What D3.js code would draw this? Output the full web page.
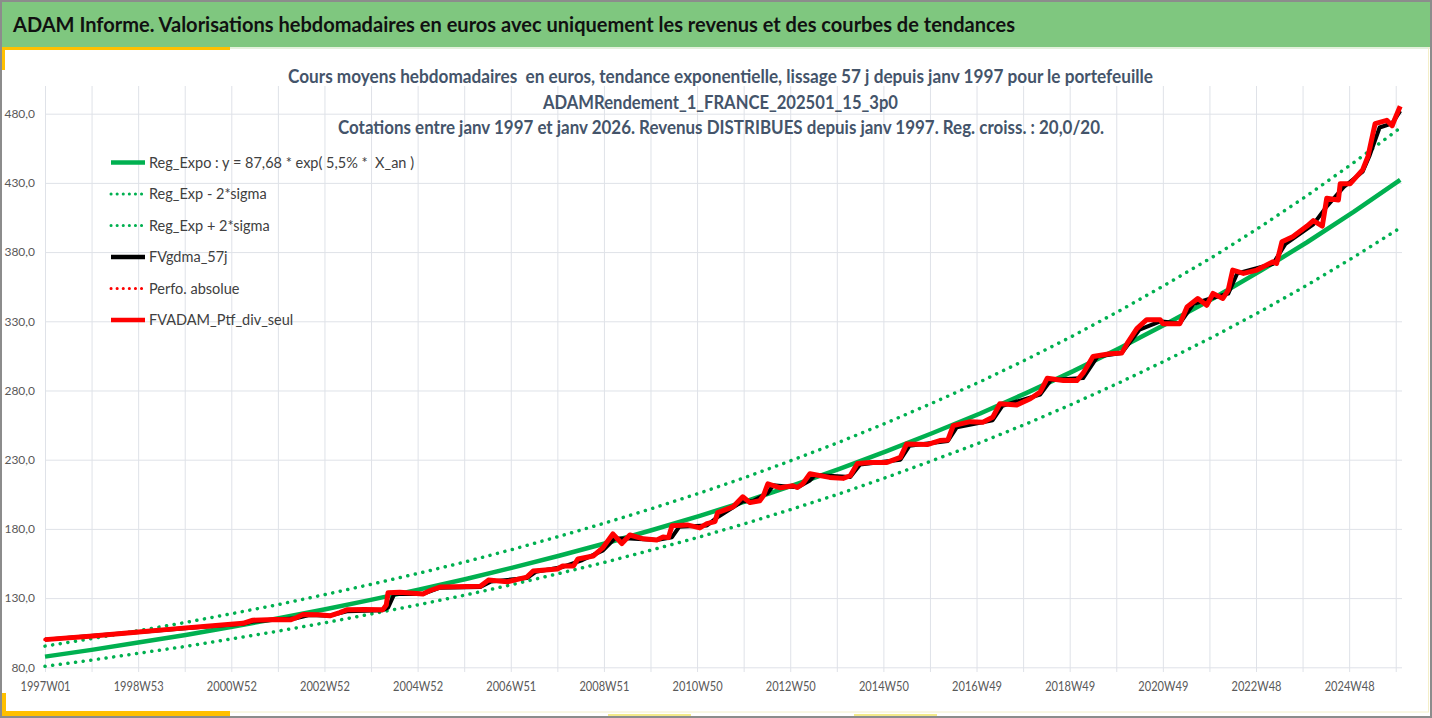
<!DOCTYPE html>
<html lang="fr">

<head>
	<meta charset="UTF-8">
	<script type="text/javascript" src="https://cdnjs.cloudflare.com/ajax/libs/d3/7.8.5/d3.min.js"></script>
	<title>ADAM Informe</title>
	<style>
		body { margin: 0; background: #fff; }
		svg { display: block; }
		text { font-family: Lato, "Open Sans", sans-serif; white-space: pre; }
	</style>
</head>

<body>
	<div id="draw-here"></div>
	<script>
		/*Categories are weeks, index 0 = 1997W01*/
		var tickWeeks = [0, 104, 208, 312, 416, 520, 624, 728, 832, 936, 1040, 1144, 1248, 1352, 1456];
		var tickLabels = ["1997W01", "1998W53", "2000W52", "2002W52", "2004W52", "2006W51", "2008W51", "2010W50",
			"2012W50", "2014W50", "2016W49", "2018W49", "2020W49", "2022W48", "2024W48"];
		var yTicks = [80, 130, 180, 230, 280, 330, 380, 430, 480];

		/*Trend curves, one value per year*/
		var trendWeeks = [0, 52, 104, 157, 209, 261, 313, 365, 417, 470, 522, 574, 626, 678, 731, 783, 835, 887, 939, 991,
			1044, 1096, 1148, 1200, 1252, 1305, 1357, 1409, 1461, 1513];
		var trendValues = [87.7, 92.6, 97.9, 103.4, 109.3, 115.4, 122.0, 128.9, 136.1, 143.8, 152.0, 160.6, 169.6, 179.2, 189.4,
			200.1, 211.4, 223.3, 236.0, 249.3, 263.4, 278.3, 294.0, 310.7, 328.2, 346.8, 366.4, 387.1, 409.0, 432.1];
		var lowValues = [80.7, 85.2, 90.1, 95.1, 100.6, 106.2, 112.2, 118.6, 125.2, 132.3, 139.8, 147.8, 156.0, 164.9, 174.2,
			184.1, 194.5, 205.4, 217.1, 229.4, 242.3, 256.0, 270.5, 285.8, 301.9, 319.1, 337.1, 356.1, 376.3, 397.5];
		var highValues = [95.3, 100.7, 106.4, 112.4, 118.8, 125.4, 132.6, 140.1, 147.9, 156.3, 165.2, 174.6, 184.4, 194.8, 205.9,
			217.5, 229.8, 242.7, 256.5, 271.0, 286.3, 302.5, 319.6, 337.7, 356.8, 377.0, 398.3, 420.8, 444.6, 469.7];

		/*Portfolio (dividends only)*/
		var ptfWeeks = [0, 50, 95, 154, 184, 221, 232, 257, 274, 281, 288, 305, 318, 329, 337, 357, 377, 381, 383, 396,
			422, 430, 441, 486, 495, 516, 538, 545, 572, 578, 590, 595, 612, 623, 634, 644, 653, 668, 683, 690,
			696, 700, 717, 731, 739, 748, 751, 768, 779, 787, 798, 802, 807, 821, 835, 840, 846, 854, 876, 891,
			899, 907, 921, 940, 955, 962, 985, 999, 1008, 1014, 1033, 1047, 1058, 1066, 1085, 1100, 1111, 1119, 1137, 1152,
			1159, 1170, 1189, 1202, 1208, 1219, 1230, 1245, 1248, 1267, 1275, 1287, 1297, 1304, 1315, 1321, 1326, 1338, 1353, 1371,
			1375, 1381, 1393, 1409, 1416, 1426, 1431, 1444, 1446, 1457, 1471, 1477, 1485, 1498, 1504, 1509, 1513];
		var ptfValues = [100.0, 102.4, 105.0, 108.3, 109.8, 111.8, 114.0, 114.6, 114.3, 116.0, 118.2, 118.0, 117.2, 119.5, 121.5, 121.8, 121.5, 125.0, 133.9, 134.2,
			133.0, 135.5, 138.0, 138.5, 143.0, 141.8, 145.2, 149.6, 151.0, 153.2, 153.2, 158.3, 160.4, 166.5, 176.4, 169.4, 175.6, 172.8, 172.0, 174.2,
			173.7, 182.2, 182.9, 180.7, 183.8, 185.3, 191.8, 195.9, 203.2, 199.0, 200.3, 203.9, 212.6, 209.7, 211.2, 209.9, 212.6, 219.9, 217.2, 216.5,
			218.4, 227.3, 228.0, 228.0, 231.7, 241.4, 240.9, 243.8, 244.3, 254.6, 257.5, 257.0, 260.6, 270.4, 269.6, 274.0, 278.8, 288.9, 287.2, 287.2,
			292.5, 304.6, 306.6, 307.0, 313.8, 324.7, 331.2, 331.2, 328.3, 328.3, 340.4, 346.5, 341.6, 350.1, 346.5, 352.5, 367.0, 364.6, 367.0, 373.0,
			371.8, 387.5, 391.1, 398.8, 402.7, 398.8, 418.9, 417.7, 429.3, 429.3, 439.4, 449.1, 472.8, 475.2, 471.3, 479.3, 485.3];

		/*57 day moving average of the portfolio*/
		var gdmaWeeks = [0, 95, 184, 221, 232, 257, 281, 295, 318, 337, 377, 383, 390, 422, 441, 486, 498, 538, 548, 578,
			600, 623, 636, 653, 683, 700, 708, 739, 752, 779, 790, 807, 813, 840, 854, 860, 899, 910, 955, 965,
			1008, 1018, 1058, 1069, 1111, 1123, 1159, 1175, 1202, 1222, 1245, 1267, 1282, 1304, 1321, 1331, 1371, 1385, 1416, 1431,
			1450, 1471, 1479, 1490, 1504, 1513];
		var gdmaValues = [100.0, 105.0, 109.6, 111.5, 113.0, 114.4, 115.5, 117.8, 117.3, 120.5, 121.3, 123.0, 133.0, 133.0, 137.5, 138.0, 142.0, 144.5, 149.0, 152.5,
			157.5, 164.5, 173.0, 173.0, 172.0, 174.0, 181.5, 182.5, 189.0, 200.0, 200.0, 206.0, 211.5, 210.0, 215.0, 219.0, 217.5, 226.5, 230.0, 240.0,
			243.5, 253.5, 258.5, 269.0, 277.0, 287.5, 289.0, 304.5, 307.0, 324.0, 330.0, 328.5, 342.5, 347.0, 350.0, 364.5, 371.5, 386.0, 400.0, 413.0,
			427.0, 438.0, 450.0, 470.0, 473.0, 482.0];

		var legendNames = ["Reg_Expo : y = 87,68 * exp( 5,5% *  X_an )", "Reg_Exp - 2*sigma", "Reg_Exp + 2*sigma",
			"FVgdma_57j", "Perfo. absolue", "FVADAM_Ptf_div_seul"];

		/*Size of page and plot*/
		var w = 1432;
		var h = 718;
		var plotLeft = 45, plotRight = 1402, plotTop = 86, plotBottom = 667.3;

		var green = "#00b050";
		var red = "#ff0000";

		var svg = d3.select("#draw-here")
			.append("svg")
			.attr("width", w)
			.attr("height", h);

		var x = d3.scaleLinear().domain([0, 1515]).range([plotLeft, plotRight]);
		var y = d3.scaleLinear().domain([80, 500]).range([plotBottom, plotTop]);

		draw_frame();
		draw_grid();
		draw_series();
		draw_titles();
		draw_legend();

		/*squeeze a text to a measured width*/
		function fit(sel, width) {
			sel.attr("textLength", width).attr("lengthAdjust", "spacingAndGlyphs");
		}

		/*green header band, borders and yellow corners*/
		function draw_frame() {
			svg.append("rect").attr("x", 0).attr("y", 0).attr("width", w).attr("height", h).attr("fill", "#fff");
			svg.append("rect").attr("x", 0).attr("y", 0).attr("width", w).attr("height", 47).attr("fill", "#7fc77f");
			svg.append("rect").attr("x", 0).attr("y", 47).attr("width", w).attr("height", 2).attr("fill", "#e3f1dc");

			svg.append("text")
				.attr("x", 13)
				.attr("y", 31.5)
				.attr("font-size", "21px")
				.attr("font-weight", 700)
				.attr("fill", "#111")
				.text("ADAM Informe. Valorisations hebdomadaires en euros avec uniquement les revenus et des courbes de tendances")
				.call(fit, 1002);

			/*yellow corner marks*/
			var yellow = "#ffc000";
			svg.append("rect").attr("x", 3).attr("y", 47).attr("width", 227).attr("height", 3).attr("fill", yellow);
			svg.append("rect").attr("x", 0).attr("y", 47).attr("width", 5).attr("height", 23).attr("fill", yellow);
			svg.append("rect").attr("x", 0).attr("y", 693).attr("width", 6).attr("height", 22).attr("fill", yellow);
			svg.append("rect").attr("x", 0).attr("y", 711).attr("width", 230).attr("height", 5).attr("fill", yellow);
			svg.append("rect").attr("x", 608).attr("y", 714).attr("width", 83).attr("height", 3).attr("fill", "#f3ea8a");
			svg.append("rect").attr("x", 854).attr("y", 714).attr("width", 83).attr("height", 3).attr("fill", "#f3ea8a");
			svg.append("line").attr("x1", 230).attr("x2", 1429).attr("y1", 712).attr("y2", 712)
				.attr("stroke", "#f4efc8").attr("stroke-width", 1);
			svg.append("line").attr("x1", 1428.5).attr("x2", 1428.5).attr("y1", 47).attr("y2", 712)
				.attr("stroke", "#f4efc8").attr("stroke-width", 1);

			/*grey outer border*/
			svg.append("rect").attr("x", 1).attr("y", 1).attr("width", w - 2).attr("height", h - 2)
				.attr("fill", "none").attr("stroke", "#8c8c8c").attr("stroke-width", 2);
		}

		/*gridlines and axis labels*/
		function draw_grid() {
			var gridWeeks = d3.range(0, 1509, 52);
			var gridColor = "#dfe2e8";

			var vGrid = svg.append("g")
				.attr("transform", "translate(0," + 672 + ")")
				.call(d3.axisBottom(x).tickValues(gridWeeks).tickSize(-(672 - plotTop)).tickFormat(""));
			vGrid.select(".domain").remove();
			vGrid.selectAll("line").attr("stroke", gridColor);

			var hGrid = svg.append("g")
				.attr("transform", "translate(" + plotLeft + ",0)")
				.call(d3.axisLeft(y).tickValues(yTicks).tickSize(-(plotRight - plotLeft)).tickFormat(""));
			hGrid.select(".domain").remove();
			hGrid.selectAll("line").attr("stroke", gridColor);

			var yAxis = svg.append("g")
				.attr("transform", "translate(" + plotLeft + ",0)")
				.call(d3.axisLeft(y).tickValues(yTicks).tickSize(0).tickPadding(10)
					.tickFormat(function(d) { return d3.format(".1f")(d).replace(".", ","); }));
			yAxis.select(".domain").remove();
			yAxis.selectAll("text")
				.attr("font-family", "Lato, sans-serif")
				.attr("font-size", "12px")
				.attr("fill", "#595959");

			var xAxis = svg.append("g")
				.attr("transform", "translate(0," + plotBottom + ")")
				.call(d3.axisBottom(x).tickValues(tickWeeks).tickSize(0).tickPadding(14)
					.tickFormat(function(d, i) { return tickLabels[i]; }));
			xAxis.select(".domain").remove();
			xAxis.selectAll("text")
				.attr("font-family", "Lato, sans-serif")
				.attr("font-size", "13px")
				.attr("fill", "#595959")
				.call(fit, 50);
		}

		/*lines, drawn in the chart's series order*/
		function draw_series() {
			var line = d3.line()
				.x(function(d) { return x(d[0]); })
				.y(function(d) { return y(d[1]); });

			function pairs(weeks, values) {
				return weeks.map(function(wk, i) { return [wk, values[i]]; });
			}

			var plot = svg.append("g")
				.attr("fill", "none")
				.attr("stroke-linejoin", "round");

			plot.append("path").attr("d", line(pairs(trendWeeks, trendValues)))
				.attr("stroke", green).attr("stroke-width", 4.5);
			plot.append("path").attr("d", line(pairs(trendWeeks, lowValues)))
				.attr("stroke", green).attr("stroke-width", 3.5)
				.attr("stroke-linecap", "round").attr("stroke-dasharray", "0.1 7.6");
			plot.append("path").attr("d", line(pairs(trendWeeks, highValues)))
				.attr("stroke", green).attr("stroke-width", 3.5)
				.attr("stroke-linecap", "round").attr("stroke-dasharray", "0.1 7.6");
			plot.append("path").attr("d", line(pairs(gdmaWeeks, gdmaValues)))
				.attr("stroke", "#000").attr("stroke-width", 4);
			plot.append("path").attr("d", line(pairs(ptfWeeks, ptfValues)))
				.attr("stroke", red).attr("stroke-width", 3.5)
				.attr("stroke-linecap", "round").attr("stroke-dasharray", "0.1 7.6");
			plot.append("path").attr("d", line(pairs(ptfWeeks, ptfValues)))
				.attr("stroke", red).attr("stroke-width", 5);
		}

		/*three centred chart titles*/
		function draw_titles() {
			var titles = [
				{ t: "Cours moyens hebdomadaires  en euros, tendance exponentielle, lissage 57 j depuis janv 1997 pour le portefeuille", x: 288, y: 82.5, len: 865 },
				{ t: "ADAMRendement_1_FRANCE_202501_15_3p0", x: 543, y: 108.5, len: 355 },
				{ t: "Cotations entre janv 1997 et janv 2026. Revenus DISTRIBUES depuis janv 1997. Reg. croiss. : 20,0/20.", x: 338, y: 134, len: 766 }
			];
			titles.forEach(function(d) {
				svg.append("text")
					.attr("x", d.x)
					.attr("y", d.y)
					.attr("font-size", "18px")
					.attr("font-weight", 700)
					.attr("fill", "#44546a")
					.text(d.t)
					.call(fit, d.len);
			});
		}

		/*legend in the upper left corner of the plot*/
		function draw_legend() {
			var styles = [
				{ c: green, dash: null },
				{ c: green, dash: "0.1 6" },
				{ c: green, dash: "0.1 6" },
				{ c: "#000", dash: null },
				{ c: red, dash: "0.1 6" },
				{ c: red, dash: null }
			];
			var lg = svg.append("g");
			legendNames.forEach(function(name, i) {
				var cy = 162.5 + i * 31.5;
				var s = styles[i];
				lg.append("line")
					.attr("x1", 111).attr("x2", 145)
					.attr("y1", cy).attr("y2", cy)
					.attr("stroke", s.c)
					.attr("stroke-width", s.dash ? 3 : 4.5)
					.attr("stroke-linecap", s.dash ? "round" : "butt")
					.attr("stroke-dasharray", s.dash);
				lg.append("text")
					.attr("x", 149)
					.attr("y", cy)
					.attr("dy", "0.35em")
					.attr("font-size", "14.5px")
					.attr("fill", "#404040")
					.text(name);
			});
		}
	</script>
</body>

</html>
